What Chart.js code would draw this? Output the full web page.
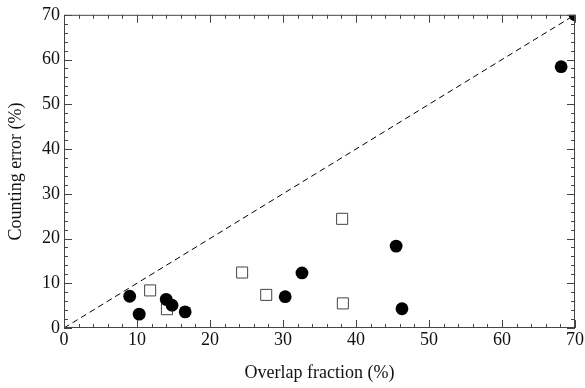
<!DOCTYPE html>
<html>
<head>
<meta charset="utf-8">
<script src="https://cdn.jsdelivr.net/npm/chart.js@4.4.1/dist/chart.umd.min.js"></script>
<style>
  html, body { margin: 0; padding: 0; background: #fff; }
  #wrap { width: 585px; height: 388px; }
</style>
</head>
<body>
<div id="wrap"><canvas id="chart" width="585" height="388"></canvas></div>
<script>
// filled circles
const circleX = [9.0, 10.3, 14.0, 14.8, 16.6, 30.3, 32.6, 45.5, 46.3, 68.1, 70.0];
const circleY = [7.1, 3.1, 6.4, 5.1, 3.6, 7.0, 12.3, 18.3, 4.3, 58.4, 70.0];
// open squares
const squareX = [11.8, 14.1, 24.4, 27.7, 38.1, 38.2];
const squareY = [8.4, 4.2, 12.4, 7.4, 24.4, 5.5];
// y = x reference line
const lineX = [0, 70];
const lineY = [0, 70];

const axisMin = 0, axisMax = 70, majorStep = 10, minorStep = 2;

function pts(xs, ys) {
  return xs.map((x, i) => ({ x: x, y: ys[i] }));
}

// inward ticks on all four sides + frame
const frameTicks = {
  id: 'frameTicks',
  afterDraw(chart) {
    const c = chart.ctx, a = chart.chartArea;
    const sx = chart.scales.x, sy = chart.scales.y;
    c.save();
    c.strokeStyle = '#444';
    c.lineWidth = 1;
    c.strokeRect(a.left + 0.5, a.top + 0.5, a.right - a.left - 1, a.bottom - a.top - 1);
    c.beginPath();
    for (let v = axisMin; v <= axisMax; v += minorStep) {
      let len = (v % majorStep === 0) ? 8 : 4;
      let px = Math.round(sx.getPixelForValue(v)) + 0.5;
      c.moveTo(px, a.bottom); c.lineTo(px, a.bottom - len);
      c.moveTo(px, a.top); c.lineTo(px, a.top + len);
      let py = Math.round(sy.getPixelForValue(v)) + 0.5;
      c.moveTo(a.left, py); c.lineTo(a.left + len, py);
      c.moveTo(a.right, py); c.lineTo(a.right - len, py);
    }
    c.stroke();
    c.restore();
  }
};

const font = { family: 'Liberation Serif', size: 18 };

new Chart(document.getElementById('chart'), {
  type: 'scatter',
  data: {
    datasets: [
      {
        label: 'circles',
        data: pts(circleX, circleY),
        pointStyle: 'circle',
        pointRadius: 6.4,
        backgroundColor: '#000',
        borderColor: '#000',
        borderWidth: 0,
        clip: 0
      },
      {
        label: 'squares',
        data: pts(squareX, squareY),
        pointStyle: 'rect',
        pointRadius: 7.8,
        backgroundColor: '#fff',
        borderColor: '#444',
        borderWidth: 1,
        clip: 0
      },
      {
        label: 'y = x',
        type: 'line',
        data: pts(lineX, lineY),
        showLine: true,
        borderColor: '#000',
        borderWidth: 1,
        borderDash: [6, 4],
        pointRadius: 0,
        fill: false,
        clip: 0
      }
    ]
  },
  options: {
    responsive: false,
    animation: false,
    layout: { padding: { top: 13, right: 10, left: 0, bottom: 0 } },
    plugins: {
      legend: { display: false },
      tooltip: { enabled: false }
    },
    scales: {
      x: {
        type: 'linear',
        min: axisMin, max: axisMax,
        grid: { display: false, drawTicks: false },
        border: { display: false },
        ticks: { stepSize: majorStep, color: '#111', font: font, padding: 1, maxRotation: 0 },
        title: { display: true, text: 'Overlap fraction (%)', color: '#111', font: font, padding: { top: 10 } },
        afterFit(s) { s.height = 60; }
      },
      y: {
        type: 'linear',
        min: axisMin, max: axisMax,
        grid: { display: false, drawTicks: false },
        border: { display: false },
        ticks: { stepSize: majorStep, color: '#111', font: font, padding: 4 },
        title: { display: true, text: 'Counting error (%)', color: '#111', font: font, padding: { top: 5, bottom: 2 } },
        afterFit(s) { s.width = 64; }
      }
    }
  },
  plugins: [frameTicks]
});
</script>
</body>
</html>
